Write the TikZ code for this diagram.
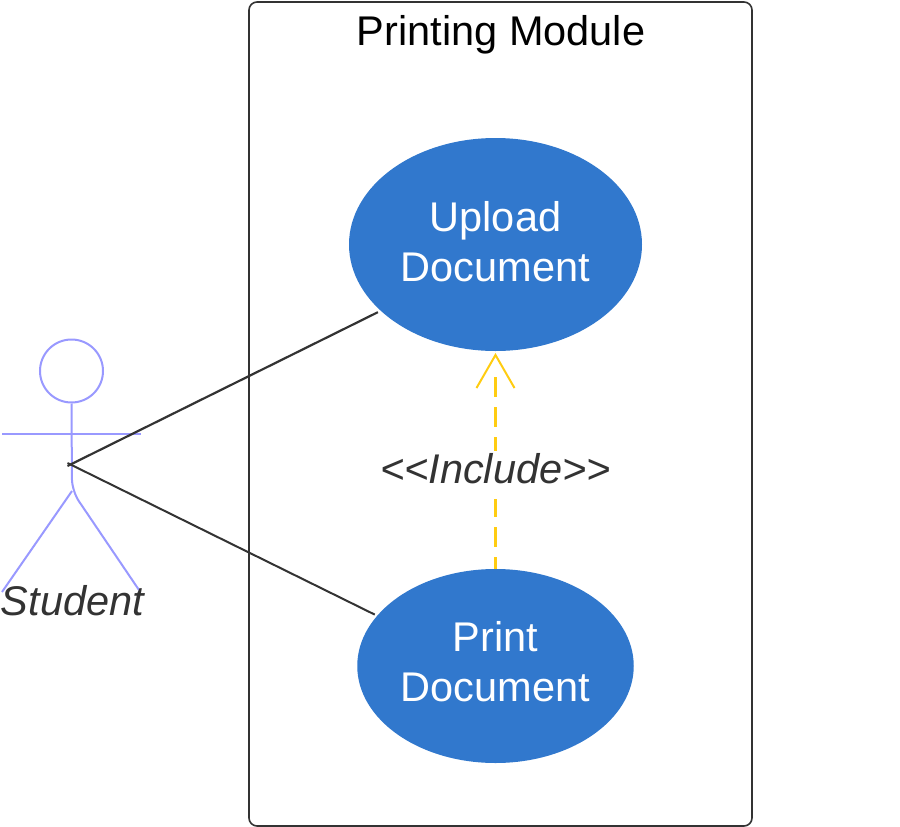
\documentclass[tikz,border=0pt]{standalone}
\usepackage{fontspec}
\setmainfont{Liberation Sans}
\usetikzlibrary{shapes.geometric}
\definecolor{usecase}{HTML}{3178CD}
\definecolor{actorline}{HTML}{9999FF}
\definecolor{inclline}{HTML}{FFCC11}
\definecolor{inktext}{HTML}{333333}
\tikzset{
  bigtext/.style={font=\fontsize{41.5}{50}\selectfont},
  bigital/.style={font=\fontsize{41.5}{50}\selectfont\itshape},
  usecasenode/.style={ellipse,fill=usecase,text=white,bigtext,align=center,inner sep=0pt},
  actor/.style={draw=actorline,line width=2pt},
  assoc/.style={draw=inktext,line width=2.2pt},
  incl/.style={draw=inclline,line width=2.4pt},
}
\begin{document}
\begin{tikzpicture}[x=1pt,y=-1pt]
\useasboundingbox (0,0) rectangle (900,827);
% system boundary
\node[draw=inktext,line width=1.6pt,rounded corners=8pt,minimum width=503pt,minimum height=824pt,inner sep=0pt] (module) at (500.5,414) {};
\node[bigtext,text=black,inner sep=0pt] (moduletitle) at (501,35) {Printing Module};
% use cases
\node[usecasenode,minimum width=293pt,minimum height=213pt] (upload) at (495.5,244.5) {\raisebox{5.5pt}{Upload}\\\raisebox{5.5pt}{Document}};
\node[usecasenode,minimum width=276.5pt,minimum height=194pt] (print) at (495.5,666) {\raisebox{10pt}{Print}\\\raisebox{10pt}{Document}};
% actor
\node[circle,actor,minimum size=63pt,inner sep=0pt] (head) at (71.5,371) {};
\coordinate (hip) at (72,491);
\coordinate (armL) at (2,434);
\coordinate (armR) at (141,434);
\coordinate (footL) at (2,592);
\coordinate (footR) at (139,590);
\coordinate (hubU) at (67.5,466);
\coordinate (hubP) at (67.5,463);
\draw[actor] (armL) -- (armR);
\draw[actor,rounded corners=12pt] (head.south) -- (hip) -- (footR);
\draw[actor] (hip) -- (footL);
\node[bigital,text=inktext,inner sep=0pt] (student) at (72.5,601) {Student};
% associations
\draw[assoc,shorten >=3pt] (hubU) -- (upload.210);
\draw[assoc,line width=2pt,shorten >=2.5pt] (hubP) -- (print.157);
% include
\coordinate (shaftend) at (495.5,377);
\coordinate (tip) at (495.5,355);
\coordinate (barbL) at (476.5,388);
\coordinate (barbR) at (514.5,388);
\draw[incl,dash pattern=on 20pt off 10pt,dash phase=8pt] (print.north) -- (shaftend);
\draw[incl,line width=2pt] (barbL) -- (tip) -- (barbR);
\node[fill=white,bigital,text=inktext,inner sep=0pt,text height=32.5pt,text depth=15.5pt] (incllabel) at (495.5,475) {{<}{<}Include{>}{>}};
\end{tikzpicture}
\end{document}
